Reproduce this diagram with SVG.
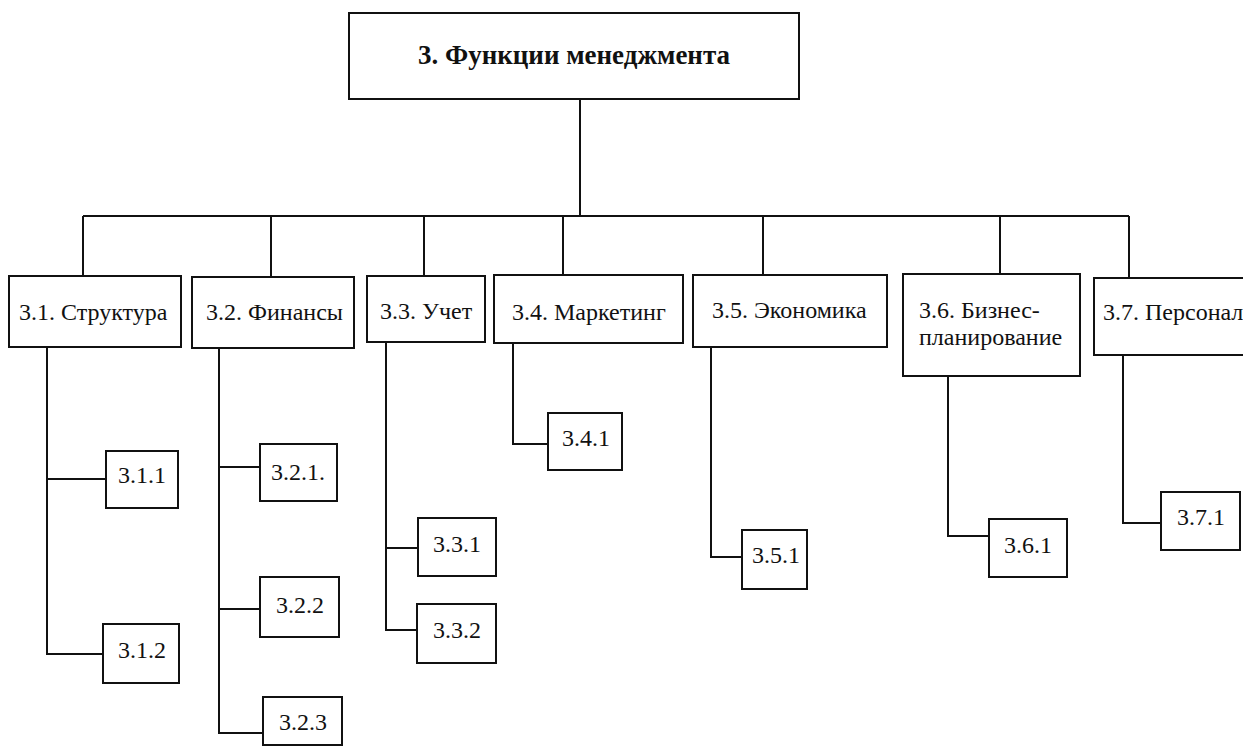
<svg xmlns="http://www.w3.org/2000/svg" width="1243" height="751" viewBox="0 0 1243 751">
<style>
.box{fill:#fff;stroke:#111;stroke-width:2}
.ln{fill:none;stroke:#111;stroke-width:2}
.t{font-family:"Liberation Serif","Times New Roman",serif;font-size:24px;fill:#111}
.tt{font-family:"Liberation Serif","Times New Roman",serif;font-size:27px;font-weight:bold;fill:#111}
.s{font-family:"Liberation Serif","Times New Roman",serif;font-size:24px;fill:#111}
</style>
<rect width="1243" height="751" fill="#fff"/>
<g id="connectors" class="ln">
<path d="M580 99V216M83 216H1129M83 216V276M271 216V277M424 216V276M563 216V275M763 216V275M1000 216V274M1129 216V278"/>
<path d="M47 347V654H103M47 479H106"/>
<path d="M219 348V733H263M219 467H260M219 609H260"/>
<path d="M386 342V630H417M386 548H418"/>
<path d="M513 343V444H548"/>
<path d="M711 347V557H742"/>
<path d="M948 376V536H989"/>
<path d="M1123 355V523H1161"/>
</g>
<g id="n3"><rect class="box" x="349" y="13" width="450" height="86"/><text class="tt" x="574" y="64" text-anchor="middle">3. Функции менеджмента</text></g>
<g id="n3_1"><rect class="box" x="9" y="276" width="172" height="71"/><text class="t" x="19" y="320">3.1. Структура</text></g>
<g id="n3_2"><rect class="box" x="192" y="277" width="162" height="71"/><text class="t" x="206" y="320">3.2. Финансы</text></g>
<g id="n3_3"><rect class="box" x="367" y="276" width="118" height="66"/><text class="t" x="380" y="319">3.3. Учет</text></g>
<g id="n3_4"><rect class="box" x="494" y="275" width="189" height="68"/><text class="t" x="512" y="320">3.4. Маркетинг</text></g>
<g id="n3_5"><rect class="box" x="693" y="275" width="194" height="72"/><text class="t" x="712" y="318">3.5. Экономика</text></g>
<g id="n3_6"><rect class="box" x="903" y="274" width="177" height="102"/><text class="t" x="919" y="318">3.6. Бизнес-</text><text class="t" x="919" y="345">планирование</text></g>
<g id="n3_7"><rect class="box" x="1094" y="278" width="160" height="77"/><text class="t" x="1103" y="320">3.7. Персонал</text></g>
<g id="n3_1_1"><rect class="box" x="106" y="451" width="72" height="57"/><text class="s" x="118" y="483">3.1.1</text></g>
<g id="n3_1_2"><rect class="box" x="103" y="624" width="76" height="59"/><text class="s" x="118" y="658">3.1.2</text></g>
<g id="n3_2_1"><rect class="box" x="260" y="444" width="77" height="57"/><text class="s" x="271" y="480">3.2.1.</text></g>
<g id="n3_2_2"><rect class="box" x="260" y="577" width="79" height="60"/><text class="s" x="276" y="613">3.2.2</text></g>
<g id="n3_2_3"><rect class="box" x="263" y="697" width="79" height="48"/><text class="s" x="279" y="730">3.2.3</text></g>
<g id="n3_3_1"><rect class="box" x="418" y="518" width="78" height="58"/><text class="s" x="433" y="552">3.3.1</text></g>
<g id="n3_3_2"><rect class="box" x="417" y="604" width="79" height="59"/><text class="s" x="433" y="638">3.3.2</text></g>
<g id="n3_4_1"><rect class="box" x="548" y="413" width="74" height="57"/><text class="s" x="562" y="446">3.4.1</text></g>
<g id="n3_5_1"><rect class="box" x="742" y="530" width="65" height="59"/><text class="s" x="752" y="563">3.5.1</text></g>
<g id="n3_6_1"><rect class="box" x="989" y="519" width="78" height="58"/><text class="s" x="1004" y="553">3.6.1</text></g>
<g id="n3_7_1"><rect class="box" x="1161" y="492" width="79" height="58"/><text class="s" x="1177" y="525">3.7.1</text></g>
</svg>
